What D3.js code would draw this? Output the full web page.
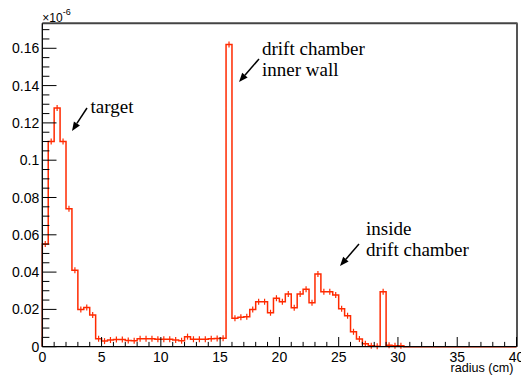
<!DOCTYPE html>
<html>
<head>
<meta charset="utf-8">
<script src="https://cdn.jsdelivr.net/npm/d3@7"></script>
<style>
  html, body { margin: 0; padding: 0; background: #fff; }
  svg { display: block; }
  .tick-label { font-family: "Liberation Sans", Arial, Helvetica, sans-serif; font-size: 14px; fill: #000; }
  .note { font-family: "Liberation Serif", "Times New Roman", serif; font-size: 19px; fill: #000; }
</style>
</head>
<body>
<svg id="chart" width="521" height="378"></svg>
<script>
// Histogram of radius, 0.5 cm bins from 0 to 40 cm (values in units of 1e-6)
const binWidth = 0.5;
const binLow = d3.range(0, 40, binWidth);
const values = [
  0.055, 0.110, 0.128, 0.110, 0.074, 0.041, 0.020, 0.021, 0.017, 0.0043,
  0.0030, 0.0036, 0.0038, 0.0038, 0.0033, 0.0032, 0.0043, 0.0043, 0.0043, 0.0040,
  0.0040, 0.0040, 0.0036, 0.0032, 0.0054, 0.0040, 0.0040, 0.0040, 0.0042, 0.0044,
  0.0045, 0.162, 0.0152, 0.0158, 0.0161, 0.0200, 0.0241, 0.0241, 0.0182, 0.0260,
  0.0241, 0.0283, 0.0209, 0.0283, 0.0308, 0.0236, 0.0390, 0.0295, 0.0295, 0.0277,
  0.0204, 0.0166, 0.0080, 0.0041, 0.0016, 0.0005, 0.0003, 0.0295, 0.0008, 0.0005,
  0.0005, 0, 0, 0, 0, 0, 0, 0, 0, 0,
  0, 0, 0, 0, 0, 0, 0, 0, 0, 0
];
const xTicks = [0, 5, 10, 15, 20, 25, 30, 35, 40];
const yTicks = [0, 0.02, 0.04, 0.06, 0.08, 0.1, 0.12, 0.14, 0.16];
const xTitle = "radius (cm)";
const notes = [
  { lines: ["target"], x: 90.5, y: 113, arrow: [[87, 108], [72, 131]] },
  { lines: ["drift chamber", "inner wall"], x: 262, y: 55, arrow: [[259, 59], [239, 82]] },
  { lines: ["inside", "drift chamber"], x: 366, y: 235, arrow: [[359, 244], [340, 266]] }
];

(function draw() {
  const svg = d3.select("#chart");
  const pl = 42.3, pr = 516.5, pt = 23.3, pb = 346.7;
  const x = d3.scaleLinear().domain([0, 40]).range([pl, pr]);
  const y = d3.scaleLinear().domain([0, 0.1734]).range([pb, pt]);

  const lineColor = "#ff2a00";

  // histogram outline as a step path
  const pts = [[x(0), y(0)]];
  binLow.forEach((lo, i) => {
    pts.push([x(lo), y(values[i])]);
    pts.push([x(lo + binWidth), y(values[i])]);
  });
  pts.push([x(40), y(0)]);
  svg.append("path")
    .attr("d", d3.line()(pts))
    .attr("fill", "none")
    .attr("stroke", lineColor)
    .attr("stroke-width", 1.5);

  // small error markers at bin centres
  svg.append("g").selectAll("line")
    .data(binLow.map((lo, i) => ({ c: lo + binWidth / 2, v: values[i] })).filter(d => d.v > 0))
    .join("line")
    .attr("x1", d => x(d.c)).attr("x2", d => x(d.c))
    .attr("y1", d => y(d.v) - 3).attr("y2", d => y(d.v) + 3)
    .attr("stroke", lineColor).attr("stroke-width", 1.2);

  // frame: top and right in dark grey
  svg.append("line").attr("x1", pl).attr("x2", pr + 1).attr("y1", pt).attr("y2", pt)
    .attr("stroke", "#444").attr("stroke-width", 2);
  svg.append("line").attr("x1", pr + 0.5).attr("x2", pr + 0.5).attr("y1", pt).attr("y2", pb)
    .attr("stroke", "#555").attr("stroke-width", 2);

  // x axis with inward ticks
  const xAxisG = svg.append("g");
  xAxisG.append("line").attr("x1", pl).attr("x2", pr).attr("y1", pb).attr("y2", pb)
    .attr("stroke", "#000").attr("stroke-width", 1.3);
  d3.range(0, 41, 1).forEach(v => {
    const major = v % 5 === 0;
    xAxisG.append("line")
      .attr("x1", x(v)).attr("x2", x(v))
      .attr("y1", pb).attr("y2", pb - (major ? 9.7 : 4.8))
      .attr("stroke", "#000").attr("stroke-width", 1);
  });
  xAxisG.selectAll("text").data(xTicks).join("text")
    .attr("class", "tick-label")
    .attr("x", d => x(d)).attr("y", 361.5)
    .attr("text-anchor", "middle")
    .text(d => d);
  svg.append("text")
    .attr("class", "tick-label")
    .style("font-size", "12.6px")
    .attr("x", pr - 3).attr("y", 371.5)
    .attr("text-anchor", "end")
    .text(xTitle);

  // y axis with inward ticks
  const yAxisG = svg.append("g");
  yAxisG.append("line").attr("x1", pl).attr("x2", pl).attr("y1", pt).attr("y2", pb)
    .attr("stroke", "#000").attr("stroke-width", 1.3);
  d3.range(0, 35, 1).forEach(k => {
    const v = k * 0.005;
    if (v > 0.1734) return;
    const major = k % 4 === 0;
    yAxisG.append("line")
      .attr("x1", pl).attr("x2", pl + (major ? 14.2 : 7.1))
      .attr("y1", y(v)).attr("y2", y(v))
      .attr("stroke", "#000").attr("stroke-width", 1);
  });
  yAxisG.selectAll("text").data(yTicks).join("text")
    .attr("class", "tick-label")
    .attr("x", pl - 3).attr("y", d => y(d))
    .attr("dy", "0.36em")
    .attr("text-anchor", "end")
    .text(d => d === 0 ? "0" : String(+d.toFixed(2)));

  // exponent label
  const ex = svg.append("text").attr("class", "tick-label").style("font-size", "12px")
    .attr("x", pl).attr("y", 21.5);
  ex.append("tspan").text("×10");
  ex.append("tspan").attr("dy", -7).style("font-size", "9px").text("-6");

  // annotations with arrows
  const ann = svg.append("g");
  notes.forEach(n => {
    const t = ann.append("text").attr("class", "note").attr("x", n.x).attr("y", n.y);
    n.lines.forEach((ln, i) => {
      t.append("tspan").attr("x", n.x).attr("dy", i === 0 ? 0 : 20.5).text(ln);
    });
    const [[x1, y1], [x2, y2]] = n.arrow;
    const ang = Math.atan2(y2 - y1, x2 - x1);
    const hl = 9, hw = 3.6;
    const bx = x2 - hl * Math.cos(ang), by = y2 - hl * Math.sin(ang);
    ann.append("line").attr("x1", x1).attr("y1", y1).attr("x2", bx).attr("y2", by)
      .attr("stroke", "#000").attr("stroke-width", 1.5);
    const px = -Math.sin(ang) * hw, py = Math.cos(ang) * hw;
    ann.append("path")
      .attr("d", `M${x2},${y2}L${bx + px},${by + py}L${bx - px},${by - py}Z`)
      .attr("fill", "#000");
  });
})();
</script>
</body>
</html>
